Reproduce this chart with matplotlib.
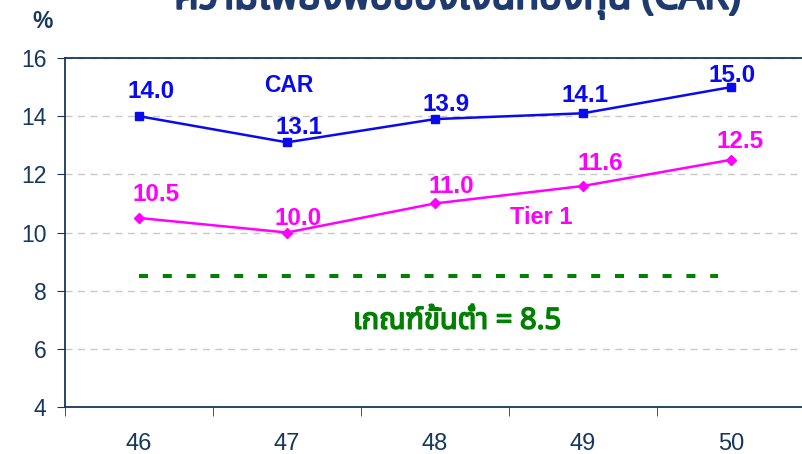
import matplotlib
matplotlib.use('Agg')
import matplotlib.pyplot as plt
import matplotlib.patheffects as pe
from matplotlib import font_manager
from matplotlib.ft2font import FT2Font

# Datos del gráfico
years = ['46', '47', '48', '49', '50']
car = [14.0, 13.1, 13.9, 14.1, 15.0]
tier1 = [10.5, 10.0, 11.0, 11.6, 12.5]
minimum = 8.5
yticks = [4, 6, 8, 10, 12, 14, 16]

title = 'ความเพียงพอของเงินกองทุน (CAR)'
min_label = 'เกณฑ์ขั้นต่ำ = 8.5'


def thai_font():
    # buscar una fuente instalada con glifos tailandeses
    names = []
    for f in font_manager.fontManager.ttflist:
        try:
            if 0x0E01 in FT2Font(f.fname).get_charmap():
                names.append(f.name)
        except Exception:
            pass
    for pref in ['Noto Sans Thai', 'Noto Sans Thai Looped', 'Loma', 'Garuda', 'Tlwg Typo']:
        if pref in names:
            return pref
    return names[0] if names else 'DejaVu Sans'


thai = thai_font()
navy = '#17375E'
blue = '#0A0AF0'
magenta = '#FF00FF'
green = '#008000'
PX = 72 / 100  # puntos por pixel

plt.rcParams['font.family'] = ['Liberation Sans', 'DejaVu Sans']

fig = plt.figure(figsize=(8.03, 4.54), dpi=100)
ax = fig.add_axes([0.081, 0.1035, 0.9215, 0.7687])

x = list(range(len(years)))
ax.plot(x, car, color=blue, lw=1.8, marker='s', ms=6, zorder=3)
ax.plot(x, tier1, color=magenta, lw=1.8, marker='D', ms=5, zorder=3)
ax.plot([x[0], x[-1] - 0.09], [minimum, minimum], color=green, lw=4 * PX,
        dashes=(2.25, 3.7), zorder=2, solid_capstyle='butt', dash_capstyle='butt')

# desplazamientos de las etiquetas (pixeles: derecha, arriba hasta el centro)
car_off = [(12, 27), (12, 17), (11, 16.5), (2, 19.5), (1, 13.5)]
t1_off = [(17, 25), (11, 16), (16, 18.5), (17, 24), (9, 20)]
for vals, offs, col in [(car, car_off, blue), (tier1, t1_off, magenta)]:
    for i, v in enumerate(vals):
        dx, dy = offs[i]
        ax.annotate(f'{v:.1f}', (x[i], v), xytext=(dx * PX, (dy - 8.5) * PX),
                    textcoords='offset points', ha='center', va='baseline',
                    color=col, fontsize=17.5, fontweight='bold')

ax.annotate('CAR', (1, 16), xytext=(2 * PX, -(83.5 - 58 + 8.5) * PX), textcoords='offset points',
            color=blue, fontsize=16.5, fontweight='bold', ha='center', va='baseline')
ax.annotate('Tier 1', (2.7, 16), xytext=(3 * PX, -(215 - 58 + 8.5) * PX), textcoords='offset points',
            color=magenta, fontsize=17, fontweight='bold', ha='center', va='baseline')
ax.text(2.15, 6.95, min_label, color=green, fontsize=21,
        ha='center', va='center', family=[thai, 'DejaVu Sans'],
        path_effects=[pe.withStroke(linewidth=1.1, foreground=green)])

ax.set_xlim(-0.5, 4.5)
ax.set_ylim(4, 16)
ax.set_yticks(yticks)
ax.set_xticks(x)
ax.set_xticklabels(years)
ax.set_xticks([i - 0.5 for i in range(len(years) + 1)], minor=True)
ax.tick_params(axis='x', which='major', length=0, pad=18.5, labelsize=17, labelcolor=navy)
ax.tick_params(axis='x', which='minor', length=6.5, color=navy, direction='out')
ax.tick_params(axis='y', length=5.5, color=navy, labelsize=16.5, labelcolor=navy, pad=8)

ax.yaxis.grid(True, color='#C8C8C8', linestyle=(0, (5, 4)), lw=1)
ax.set_axisbelow(True)
for s in ax.spines.values():
    s.set_color(navy)
    s.set_linewidth(1.3)

fig.text(0.0535, 0.953, '%', color=navy, fontsize=16.5, fontweight='bold', ha='center', va='center')
fig.text(0.570, 0.981, title, color='#1F3A6E', fontsize=28.5,
         ha='center', va='baseline', family=[thai, 'DejaVu Sans'],
         path_effects=[pe.withStroke(linewidth=1.6, foreground='#1F3A6E')])

plt.savefig('out.png', dpi=100)
